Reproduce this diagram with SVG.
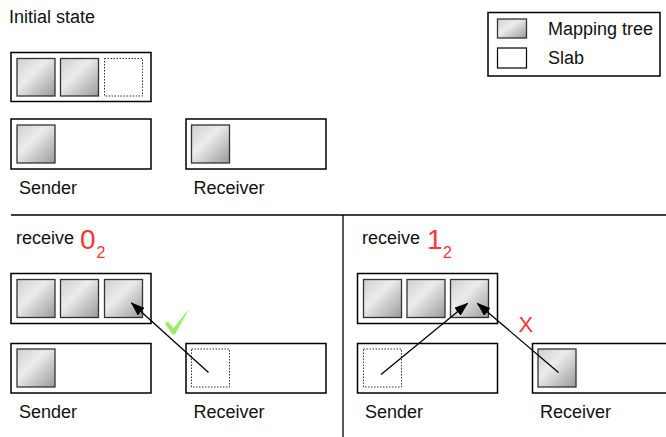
<svg xmlns="http://www.w3.org/2000/svg" width="666" height="437" viewBox="0 0 666 437">
<defs>
<linearGradient id="mt" x1="0" y1="0" x2="1" y2="1">
<stop offset="0" stop-color="#cfcfcf"/>
<stop offset="0.4" stop-color="#ececec"/>
<stop offset="1" stop-color="#9a9a9a"/>
</linearGradient>
<marker id="ah" markerWidth="14" markerHeight="10" refX="13" refY="5" orient="auto" markerUnits="userSpaceOnUse">
<path d="M0,0 L14,5 L0,10 Z" fill="#000"/>
</marker>
</defs>
<style>
.slab{fill:#fff;stroke:#000;stroke-width:1.5}
.mt{fill:url(#mt);stroke:#333;stroke-width:1.3}
.empty{fill:#fff;stroke:#333;stroke-width:1;stroke-dasharray:1.5 1.5}
.lbl{font-family:"Liberation Sans",Arial,sans-serif;font-size:18px;fill:#111}
.red{font-family:"Liberation Sans",Arial,sans-serif;fill:#ff3333}
.conn{stroke:#000;stroke-width:1.3;fill:none;marker-end:url(#ah)}
.div{stroke:#000;stroke-width:1.3}
</style>

<g id="title"><text class="lbl" x="9" y="23">Initial state</text></g>

<g id="legend">
<rect class="slab" x="488" y="12.5" width="172" height="63.5"/>
<rect class="mt" x="497.5" y="19" width="29" height="19"/>
<rect class="slab" x="497.5" y="48" width="29" height="20" style="stroke-width:1.2"/>
<text class="lbl" x="548" y="35">Mapping tree</text>
<text class="lbl" x="548" y="64">Slab</text>
</g>

<g id="dividers">
<line class="div" x1="11" y1="215" x2="666" y2="215"/>
<line class="div" x1="343" y1="215" x2="343" y2="437"/>
</g>

<!-- Initial state -->
<g id="init-tree">
<rect class="slab" x="11" y="52.5" width="140" height="49"/>
<rect class="mt" x="17" y="58.5" width="38" height="37.5"/>
<rect class="mt" x="60.5" y="58.5" width="38" height="37.5"/>
<rect class="empty" x="104.5" y="58.5" width="38" height="37.5"/>
</g>
<g id="init-sender">
<rect class="slab" x="11" y="119" width="140" height="50"/>
<rect class="mt" x="17" y="125" width="38" height="38"/>
<text class="lbl" x="19" y="194">Sender</text>
</g>
<g id="init-receiver">
<rect class="slab" x="186" y="119" width="140" height="50"/>
<rect class="mt" x="191.5" y="125" width="38" height="38"/>
<text class="lbl" x="193.5" y="194">Receiver</text>
</g>

<!-- receive 0 -->
<g id="r0-title">
<text class="lbl" x="16" y="244">receive</text>
<text class="red" x="80" y="248.5" font-size="28">0</text>
<text class="red" x="96.5" y="257.5" font-size="16">2</text>
</g>
<g id="r0-tree">
<rect class="slab" x="11" y="273.5" width="140" height="50"/>
<rect class="mt" x="17" y="279.5" width="38" height="38"/>
<rect class="mt" x="60.5" y="279.5" width="38" height="38"/>
<rect class="mt" x="104.5" y="279.5" width="38" height="38"/>
</g>
<g id="r0-sender">
<rect class="slab" x="11" y="343.5" width="140" height="49.5"/>
<rect class="mt" x="17" y="349" width="38" height="38"/>
<text class="lbl" x="19" y="418">Sender</text>
</g>
<g id="r0-receiver">
<rect class="slab" x="186" y="343.5" width="140" height="49.5"/>
<rect class="empty" x="191.5" y="349" width="38" height="38"/>
<text class="lbl" x="193.5" y="418">Receiver</text>
</g>
<g id="r0-check">
<path d="M165,323.5 L168,321.5 L173.5,328 L189.5,308 L175,334.5 L172.5,334.5 Z" fill="#99ee66"/>
</g>

<!-- receive 1 -->
<g id="r1-title">
<text class="lbl" x="362" y="244">receive</text>
<text class="red" x="427" y="248.5" font-size="28">1</text>
<text class="red" x="443" y="257.5" font-size="16">2</text>
</g>
<g id="r1-tree">
<rect class="slab" x="357.5" y="273.5" width="140" height="50"/>
<rect class="mt" x="363.5" y="279.5" width="38" height="38"/>
<rect class="mt" x="407" y="279.5" width="38" height="38"/>
<rect class="mt" x="450.5" y="279.5" width="38" height="38"/>
</g>
<g id="r1-sender">
<rect class="slab" x="357.5" y="343.5" width="140" height="49.5"/>
<rect class="empty" x="363.5" y="349" width="38" height="38"/>
<text class="lbl" x="365" y="418">Sender</text>
</g>
<g id="r1-receiver">
<rect class="slab" x="532.5" y="343.5" width="150" height="49.5"/>
<rect class="mt" x="538" y="349" width="38" height="38"/>
<text class="lbl" x="540" y="418">Receiver</text>
</g>
<g id="r1-x">
<text class="red" x="518.5" y="331.5" font-size="22">X</text>
</g>

<g id="connectors">
<line class="conn" x1="208.5" y1="372.5" x2="131.5" y2="303"/>
<line class="conn" x1="381" y1="374.5" x2="467.5" y2="303.5"/>
<line class="conn" x1="558.5" y1="372.5" x2="477.5" y2="303.5"/>
</g>
</svg>
